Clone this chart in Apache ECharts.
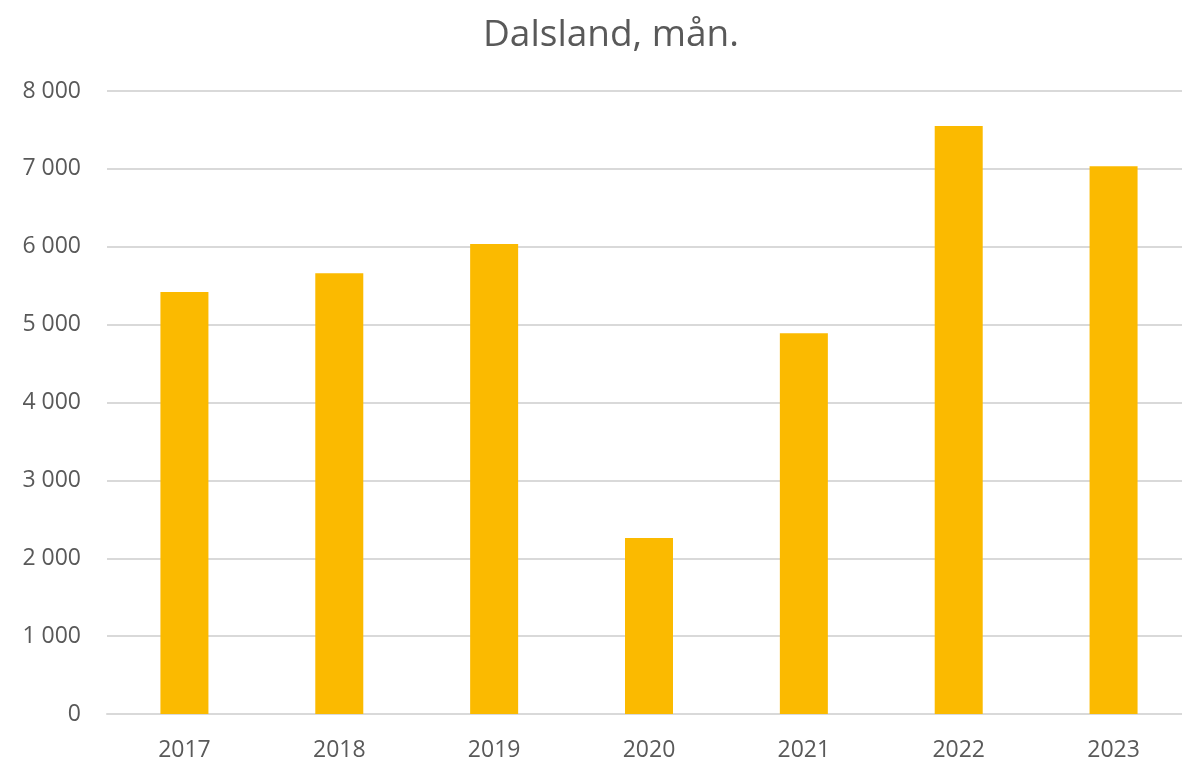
<!DOCTYPE html>
<html>
<head>
<meta charset="utf-8">
<script src="https://cdn.jsdelivr.net/npm/echarts@6/dist/echarts.min.js"></script>
<style>
  html, body { margin: 0; padding: 0; background: #fff; }
  #chart { width: 1182px; height: 759px; }
</style>
</head>
<body>
<div id="chart"></div>
<script>
// data
const years = ['2017', '2018', '2019', '2020', '2021', '2022', '2023'];
const values = [5420, 5660, 6035, 2260, 4890, 7550, 7035];

const chart = echarts.init(document.getElementById('chart'));

const option = {
  title: {
    text: 'Dalsland, mån.',
    left: 478,
    top: 12,
    textStyle: {
      fontFamily: 'Open Sans',
      fontWeight: 'normal',
      fontSize: 37,
      color: '#595959'
    }
  },
  // plot runs a bit past the right edge, like the cropped original
  grid: {
    left: 107,
    width: 1084,
    top: 91,
    bottom: 45,
    outerBoundsMode: 'none'
  },
  xAxis: {
    type: 'category',
    data: years,
    axisLine: { lineStyle: { color: '#d9d9d9', width: 2 } },
    axisTick: { show: false },
    axisLabel: {
      fontFamily: 'Open Sans',
      fontSize: 23,
      color: '#595959',
      margin: 25
    }
  },
  yAxis: {
    type: 'value',
    min: 0,
    max: 8000,
    interval: 1000,
    axisLine: { show: false },
    axisTick: { show: false },
    splitLine: { lineStyle: { color: '#d9d9d9', width: 2 } },
    axisLabel: {
      fontFamily: 'Open Sans',
      fontSize: 23,
      color: '#595959',
      margin: 26,
      formatter: v => String(v).replace(/\B(?=(\d{3})+(?!\d))/g, ' ')
    }
  },
  series: [
    {
      type: 'bar',
      data: values,
      barWidth: 48,
      itemStyle: { color: '#FBBA00' }
    }
  ]
};

chart.setOption(option);
</script>
</body>
</html>
